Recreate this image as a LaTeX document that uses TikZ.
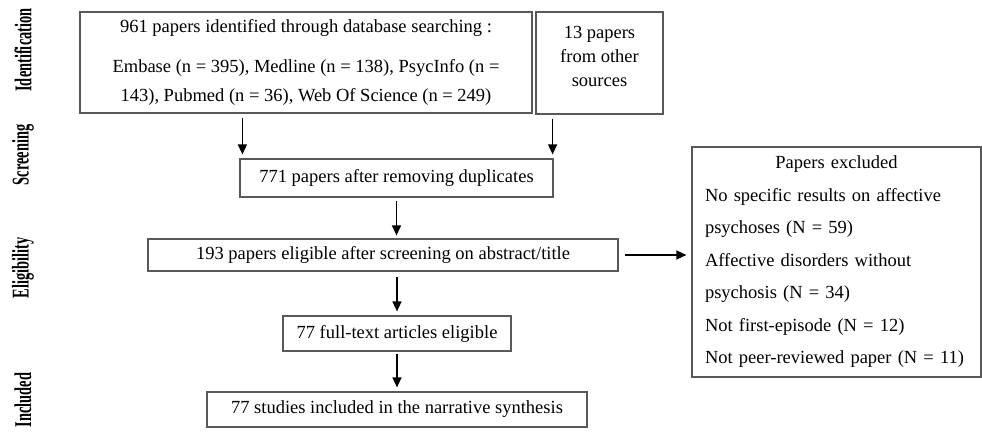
\documentclass[tikz,border=0pt]{standalone}
\usepackage{fontspec}
\setmainfont{Liberation Serif}
\usetikzlibrary{arrows.meta}
\begin{document}
\begin{tikzpicture}[x=1pt, y=-1pt,
    box/.style={draw=black!65, line width=1.2pt, inner sep=0pt,
                font=\fontsize{18.5}{20}\selectfont},
    arr/.style={-{Triangle[length=10pt,width=9pt]}, line width=1.4pt,
                shorten <=4pt, shorten >=4pt},
    stage/.style={rotate=90, font=\fontsize{24}{24}\selectfont\bfseries}]
    \useasboundingbox (0,0) rectangle (982,447);
    % stage labels
    \node[stage] (lid)  at (23,50)  {\scalebox{0.6}[1]{Identification}};
    \node[stage] (lscr) at (23,155) {\scalebox{0.6}[1]{Screening}};
    \node[stage] (lel)  at (23,268) {\scalebox{0.6}[1]{Eligibility}};
    \node[stage] (linc) at (23,400) {\scalebox{0.6}[1]{Included}};
    % flow boxes
    \node[box, align=center, font=\fontsize{18.5}{29}\selectfont,
          minimum width=452pt, minimum height=101pt] (db) at (306,62.5)
        {961 papers identified through database searching :\\[11pt]
         Embase (n = 395), Medline (n = 138), PsycInfo (n =\\
         143), Pubmed (n = 36), Web Of Science (n = 249)};
    \node[box, minimum width=127pt, minimum height=102pt] (other) at (599.5,63) {};
    \node[anchor=north, align=center, inner sep=0pt,
          font=\fontsize{18.5}{24}\selectfont] (othertxt) at (other.north)
        {\rule{0pt}{27pt}13 papers\\from other\\sources};
    \node[box, minimum width=313pt, minimum height=38pt] (dedup) at (396.5,178)
        {771 papers after removing duplicates};
    \node[box, minimum width=470pt, minimum height=32pt] (screen) at (383,255)
        {193 papers eligible after screening on abstract/title};
    \node[box, minimum width=228pt, minimum height=35pt] (full) at (397,333.5)
        {77 full-text articles eligible};
    \node[box, minimum width=380pt, minimum height=35pt] (incl) at (397,409.5)
        {77 studies included in the narrative synthesis};
    \node[box, text width=263pt, inner xsep=13pt, minimum height=230pt, align=left,
          font=\fontsize{18.5}{32.5}\selectfont] (excl) at (836.5,262)
        {\makebox[263pt]{Papers excluded}\\
         No specific results on affective\\
         psychoses (N = 59)\\
         Affective disorders without\\
         psychosis (N = 34)\\
         Not first-episode (N = 12)\\
         Not peer-reviewed paper (N = 11)};
    % connectors
    \draw[arr] ([xshift=3pt]dedup.north west |- db.south) -- ([xshift=3pt]dedup.north west);
    \draw[arr] ([xshift=-1pt]dedup.north east |- other.south) -- ([xshift=-1pt]dedup.north east);
    \draw[arr, shorten <=3pt, shorten >=3pt] (dedup) -- (dedup |- screen.north);
    \draw[arr, shorten <=5pt] (screen.south -| full) -- (full);
    \draw[arr, shorten <=2pt] (full) -- (incl);
    \draw[arr, shorten <=6pt, shorten >=5pt] (screen.east) -- (screen.east -| excl.west);
\end{tikzpicture}
\end{document}
